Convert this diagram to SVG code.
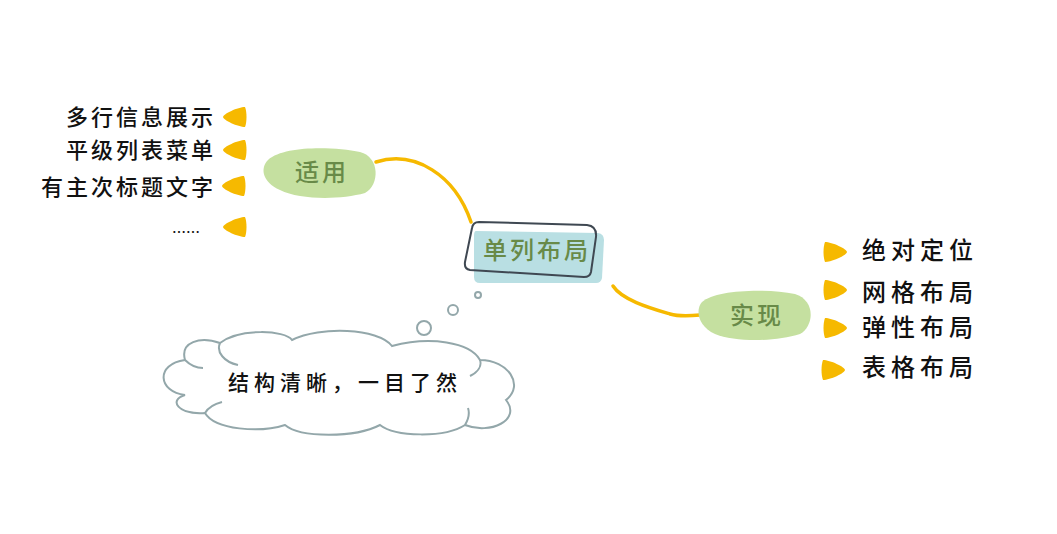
<svg xmlns="http://www.w3.org/2000/svg" width="1057" height="534" viewBox="0 0 1057 534">
<style>
.t{font-family:"Noto Sans CJK SC","Noto Sans",sans-serif;fill:#111;font-weight:500;}
.lt{font-size:22px;letter-spacing:3px;text-anchor:end;}
.rt{font-size:24px;letter-spacing:5px;}
.g{font-family:"Noto Sans CJK SC","Noto Sans",sans-serif;fill:#688a48;font-size:24px;letter-spacing:3px;text-anchor:middle;font-weight:500;}
.blob{fill:#c5e0a0;}
.con{fill:none;stroke:#f6b900;stroke-width:3.5;stroke-linecap:round;}
.bul{fill:#f6b900;}
.cl{fill:#fff;stroke:#93a7aa;stroke-width:2;}
</style>
<defs>
<path id="leaf" d="M 11,-10 C 4,-10 -11,-3 -11,0 C -11,3 4,10 11,10 C 13,5 13,-5 11,-10 Z"/>
</defs>
<rect width="1057" height="534" fill="#fff"/>
<g id="connectors">
<path class="con" d="M 376,162 C 415,150 455,175 471,222"/>
<path class="con" d="M 613,286 C 622,300 650,308 670,314 C 680,317 690,316 700,315"/>
</g>
<g id="center">
<path d="M 476,231 L 598,233 Q 604,234 604,240 L 602,278 Q 601,283 596,283 L 480,283 Q 474,283 474,277 L 474,236 Q 474,231 476,231 Z" fill="#b9dfe3"/>
<path d="M 479,222 L 587,225 Q 597,226 596,237 L 591,272 Q 590,277 584,277 L 470,270 Q 464,269 465,262 L 472,228 Q 473,222 479,222 Z" fill="none" stroke="#3f4852" stroke-width="2"/>
<text class="g" x="537" y="259">单列布局</text>
</g>
<g id="shiyong">
<path class="blob" d="M 268,160 C 285,145 335,147 360,152 C 380,157 380,185 365,193 C 340,200 300,200 280,190 C 262,182 260,168 268,160 Z"/>
<text class="g" x="322" y="181">适用</text>
</g>
<g id="shixian">
<path class="blob" d="M 702,302 C 715,290 765,288 795,294 C 815,300 815,325 800,334 C 775,342 735,342 715,334 C 698,326 695,310 702,302 Z"/>
<text class="g" x="757" y="324">实现</text>
</g>
<g id="left-items">
<use href="#leaf" class="bul" transform="translate(234,117)"/>
<use href="#leaf" class="bul" transform="translate(234,150)"/>
<use href="#leaf" class="bul" transform="translate(233,186)"/>
<use href="#leaf" class="bul" transform="translate(234,227)"/>
<text class="t lt" x="216" y="125">多行信息展示</text>
<text class="t lt" x="216" y="158">平级列表菜单</text>
<text class="t lt" x="216" y="195">有主次标题文字</text>
<text class="t" x="172" y="237" font-size="14">……</text>
</g>
<g id="right-items">
<use href="#leaf" class="bul" transform="translate(836,252) scale(-1,1)"/>
<use href="#leaf" class="bul" transform="translate(836,290) scale(-1,1)"/>
<use href="#leaf" class="bul" transform="translate(836,328) scale(-1,1)"/>
<use href="#leaf" class="bul" transform="translate(834,370) scale(-1,1)"/>
<text class="t rt" x="862" y="259">绝对定位</text>
<text class="t rt" x="862" y="301">网格布局</text>
<text class="t rt" x="862" y="336">弹性布局</text>
<text class="t rt" x="862" y="376">表格布局</text>
</g>
<g id="cloud">
<circle class="cl" cx="424" cy="328" r="7"/>
<circle class="cl" cx="453" cy="310" r="5"/>
<circle class="cl" cx="478" cy="295" r="3"/>
<path class="cl" d="M 185,395 C 158,392 155,364 185,360 C 180,342 200,336 220,343 C 240,328 285,330 292,340 C 320,326 378,328 392,346 C 430,336 470,342 480,360 C 508,360 525,385 506,400 C 522,420 490,435 465,425 C 445,438 395,437 380,425 C 355,438 300,438 285,425 C 260,433 215,430 205,413 C 178,415 168,400 185,395 Z"/>
<path fill="none" stroke="#93a7aa" stroke-width="2" d="M 220,343 C 216,352 224,362 238,365 M 185,360 C 190,365 196,368 203,368 M 480,360 C 482,366 478,372 470,376 M 205,413 C 208,408 214,404 222,402 M 465,425 C 468,420 470,414 468,408"/>
<text class="t" x="228" y="390" font-size="21" letter-spacing="5">结构清晰，一目了然</text>
</g>
</svg>
